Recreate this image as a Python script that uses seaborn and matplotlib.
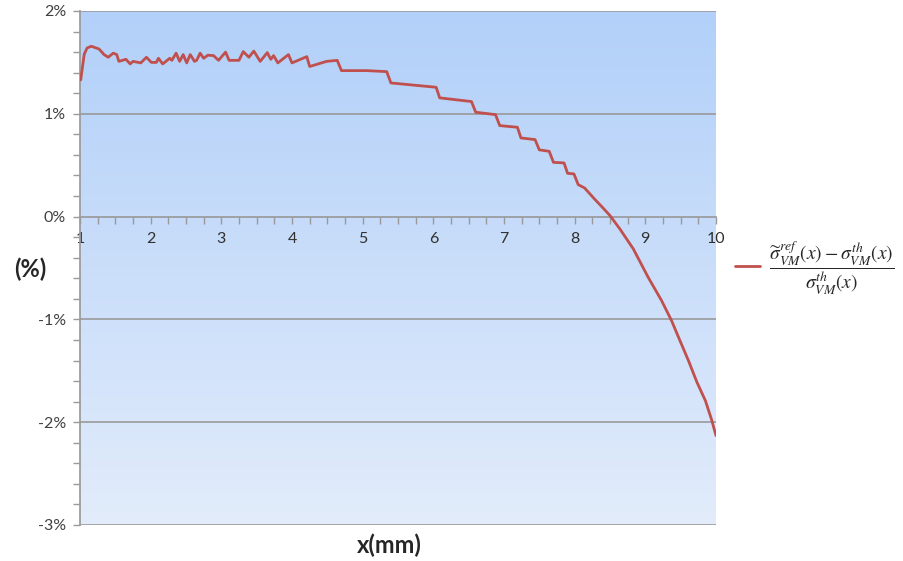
import numpy as np
import pandas as pd
import matplotlib
matplotlib.use("Agg")
import matplotlib.pyplot as plt
from matplotlib.colors import LinearSegmentedColormap
from matplotlib.ticker import MultipleLocator, FuncFormatter
import seaborn as sns

# Valeurs (x en mm, écart relatif en %)
x_mm = [1.01, 1.06, 1.10, 1.16, 1.27, 1.34, 1.40, 1.47, 1.52, 1.55, 1.65, 1.71,
        1.75, 1.86, 1.94, 2.01, 2.08, 2.11, 2.17, 2.27, 2.30, 2.36, 2.41, 2.46,
        2.51, 2.56, 2.62, 2.65, 2.70, 2.75, 2.81, 2.89, 2.96, 3.06, 3.11, 3.25,
        3.31, 3.39, 3.46, 3.55, 3.65, 3.70, 3.74, 3.80, 3.95, 4.00, 4.21, 4.25,
        4.49, 4.64, 4.70, 5.06, 5.34, 5.40, 6.04, 6.09, 6.54, 6.60, 6.88, 6.94,
        7.19, 7.24, 7.44, 7.50, 7.64, 7.70, 7.85, 7.90, 7.99, 8.05, 8.14, 8.28,
        8.40, 8.50, 8.64, 8.83, 9.04, 9.23, 9.37, 9.49, 9.61, 9.73, 9.85, 9.94,
        10.0]
ecart_pct = [1.33, 1.58, 1.64, 1.657, 1.63, 1.576, 1.55, 1.59, 1.576, 1.51, 1.53, 1.485,
             1.51, 1.495, 1.55, 1.50, 1.50, 1.54, 1.485, 1.54, 1.52, 1.59, 1.51, 1.576,
             1.495, 1.576, 1.51, 1.52, 1.59, 1.54, 1.57, 1.566, 1.52, 1.60, 1.52, 1.52,
             1.605, 1.55, 1.61, 1.51, 1.595, 1.53, 1.566, 1.495, 1.576, 1.495, 1.556, 1.46,
             1.51, 1.52, 1.42, 1.42, 1.41, 1.30, 1.258, 1.155, 1.119, 1.015, 0.992, 0.885,
             0.869, 0.765, 0.749, 0.649, 0.635, 0.528, 0.522, 0.421, 0.415, 0.311, 0.279, 0.172,
             0.085, 0.01, -0.12, -0.314, -0.59, -0.817, -1.01, -1.206, -1.40, -1.61, -1.79, -1.98,
             -2.13]
y_ticks = [-3, -2, -1, 0, 1, 2]
x_ticks = [1, 2, 3, 4, 5, 6, 7, 8, 9, 10]

legend_label = r"$\dfrac{\widetilde{\sigma}^{ref}_{VM}(x)-\sigma^{th}_{VM}(x)}{\sigma^{th}_{VM}(x)}$"

sns.set_theme(style="white")
plt.rcParams["font.family"] = ["Lato", "DejaVu Sans"]
plt.rcParams["mathtext.fontset"] = "stix"

df = pd.DataFrame({"x": x_mm, "ecart": ecart_pct})

fig = plt.figure(figsize=(9.04, 5.61), dpi=100)
ax = fig.add_axes([0.0885, 0.0642, 0.7035, 0.9162])

# fond dégradé façon Excel
grad = LinearSegmentedColormap.from_list("fond", ["#e2ecfb", "#b2d0f9"])
ax.imshow(np.linspace(0, 1, 256).reshape(-1, 1), cmap=grad, aspect="auto",
          origin="lower", extent=(1, 10, -3, 2), zorder=0)

for v in [-3, -2, -1, 1, 2]:
    ax.axhline(v, color="#9a9a9a", lw=1.2, zorder=1)

sns.lineplot(data=df, x="x", y="ecart", color="#c0504d", lw=2.0, ax=ax,
             label=legend_label, zorder=3)

ax.set_xlim(1, 10)
ax.set_ylim(-3, 2)

for s in ["top", "right"]:
    ax.spines[s].set_visible(False)
ax.spines["left"].set_color("#9a9a9a")
ax.spines["bottom"].set_color("#9a9a9a")
ax.spines["bottom"].set_position(("data", 0))
ax.spines["bottom"].set_zorder(2)

ax.set_xticks(x_ticks)
ax.set_yticks(y_ticks)
ax.xaxis.set_minor_locator(MultipleLocator(0.25))
ax.yaxis.set_minor_locator(MultipleLocator(0.2))
ax.yaxis.set_major_formatter(FuncFormatter(lambda v, p: f"{v:.0f}%"))
ax.tick_params(axis="both", which="both", direction="out", color="#9a9a9a",
               bottom=True, left=True, length=5, width=1,
               labelsize=11.5, labelcolor="#404040")
ax.tick_params(axis="x", pad=6)
ax.tick_params(axis="y", pad=5)
for t in ax.get_xticklabels():
    t.set_color("#303030")

ax.set_xlabel("")
ax.set_ylabel("")
fig.text(0.033, 0.52, "(%)", fontsize=17, fontweight="bold", ha="center", va="center")
fig.text(0.431, 0.028, "x(mm)", fontsize=17, fontweight="bold", ha="center", va="center")

ax.legend(loc="center left", bbox_to_anchor=(1.0, 0.5), frameon=False,
          fontsize=14, handlelength=1.25, handletextpad=0.5, borderaxespad=0.6)

fig.savefig("out.png", dpi=100)
